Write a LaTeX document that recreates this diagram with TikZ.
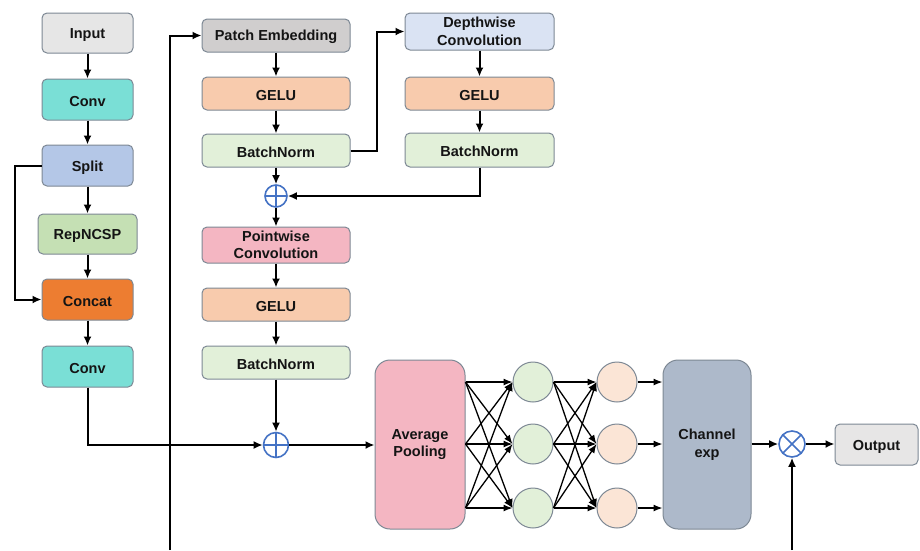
\documentclass[tikz,border=0pt]{standalone}
\usepackage{fontspec}
\setmainfont{Liberation Sans}
\usetikzlibrary{arrows.meta,calc}
\definecolor{edgegray}{HTML}{7D8894}
\definecolor{cInput}{HTML}{E6E6E6}
\definecolor{cConv}{HTML}{7ADFD6}
\definecolor{cSplit}{HTML}{B4C7E7}
\definecolor{cRep}{HTML}{C5E0B4}
\definecolor{cConcat}{HTML}{ED7D31}
\definecolor{cPatch}{HTML}{D0CECE}
\definecolor{cGelu}{HTML}{F8CBAD}
\definecolor{cBN}{HTML}{E2F0D9}
\definecolor{cDW}{HTML}{DAE3F3}
\definecolor{cPW}{HTML}{F4B6C2}
\definecolor{cGreen}{HTML}{E2F0D9}
\definecolor{cPeach}{HTML}{FBE5D6}
\definecolor{cChan}{HTML}{ADB9CA}
\definecolor{cOut}{HTML}{E7E6E6}
\definecolor{opblue}{HTML}{4472C4}
\definecolor{txt}{HTML}{141414}
\tikzset{
  box/.style={draw=edgegray, line width=1pt, rounded corners=5pt, align=center,
    text=txt, font=\fontsize{14.5}{17.5}\selectfont\bfseries, inner sep=2pt,
    execute at begin node={\rule{0pt}{14pt}}},
  tall/.style={box, rounded corners=15pt, minimum width=#1, minimum height=169pt},
  neuron/.style={circle, draw=edgegray, line width=1pt, minimum size=40pt, inner sep=0pt},
  plusop/.style={circle, draw=opblue, line width=1.6pt, fill=white, minimum size=#1, inner sep=0pt,
    path picture={\draw[opblue, line width=1.6pt]
      (path picture bounding box.north) -- (path picture bounding box.south)
      (path picture bounding box.west) -- (path picture bounding box.east);}},
  timesop/.style={circle, draw=opblue, line width=1.6pt, fill=white, minimum size=#1, inner sep=0pt,
    path picture={\draw[opblue, line width=1.6pt]
      (path picture bounding box.north west) -- (path picture bounding box.south east)
      (path picture bounding box.south west) -- (path picture bounding box.north east);}},
  flow/.style={draw=black, line width=2pt, -{Latex[length=9pt,width=8pt]}},
  fan/.style={draw=black, line width=1.3pt, -{Latex[length=9pt,width=7pt]}},
}
\begin{document}
\begin{tikzpicture}[x=1pt,y=-1pt]
\useasboundingbox (0,0) rectangle (920,550);

% left column
\node[box, fill=cInput, minimum width=91pt, minimum height=40pt] (input) at (87.5,33) {Input};
\node[box, fill=cConv, minimum width=91pt, minimum height=41pt] (conv1) at (87.5,99.5) {Conv};
\node[box, fill=cSplit, minimum width=91pt, minimum height=41pt] (split) at (87.5,165.5) {Split};
\node[box, fill=cRep, minimum width=99pt, minimum height=40pt] (rep) at (87.5,234) {RepNCSP};
\node[box, fill=cConcat, minimum width=91pt, minimum height=41pt] (concat) at (87.5,299.5) {Concat};
\node[box, fill=cConv, minimum width=91pt, minimum height=41pt] (conv2) at (87.5,366.5) {Conv};

% middle column
\node[box, fill=cPatch, minimum width=148pt, minimum height=33pt] (patch) at (276,35.5) {Patch Embedding};
\node[box, fill=cGelu, minimum width=148pt, minimum height=33pt] (gelu1) at (276,93.5) {GELU};
\node[box, fill=cBN, minimum width=148pt, minimum height=33pt] (bn1) at (276,150.5) {BatchNorm};
\node[plusop=22pt] (add1) at (276,196) {};
\node[box, fill=cPW, minimum width=148pt, minimum height=36pt] (pw) at (276,245) {Pointwise\\Convolution};
\node[box, fill=cGelu, minimum width=148pt, minimum height=33pt] (gelu2) at (276,304.5) {GELU};
\node[box, fill=cBN, minimum width=148pt, minimum height=33pt] (bn2) at (276,362.5) {BatchNorm};
\node[plusop=25pt] (add2) at (276,445) {};

% depthwise branch
\node[box, fill=cDW, minimum width=149pt, minimum height=37pt] (dw) at (479.5,31.5) {Depthwise\\Convolution};
\node[box, fill=cGelu, minimum width=149pt, minimum height=33pt] (gelu3) at (479.5,93.5) {GELU};
\node[box, fill=cBN, minimum width=149pt, minimum height=34pt] (bn3) at (479.5,150) {BatchNorm};

% channel attention
\node[tall=90pt, fill=cPW] (avg) at (420,444.5) {Average\\Pooling};
\node[neuron, fill=cGreen] (g1) at (533,382) {};
\node[neuron, fill=cGreen] (g2) at (533,444) {};
\node[neuron, fill=cGreen] (g3) at (533,508) {};
\node[neuron, fill=cPeach] (o1) at (617,382) {};
\node[neuron, fill=cPeach] (o2) at (617,444) {};
\node[neuron, fill=cPeach] (o3) at (617,508) {};
\node[tall=88pt, fill=cChan] (chan) at (707,444.5) {Channel\\exp};
\node[timesop=26pt] (mul) at (792,444) {};
\node[box, fill=cOut, minimum width=83pt, minimum height=41pt] (output) at (876.5,444.5) {Output};

\coordinate (bottomA) at (170,550);
\coordinate (bottomB) at (792,550);

% left column flow
\draw[flow] (input) -- (conv1);
\draw[flow] (conv1) -- (split);
\draw[flow] (split) -- (rep);
\draw[flow] (rep) -- (concat);
\draw[flow] (concat) -- (conv2);
\draw[flow] (split.west) -- (15,165.5) -- (15,299.5) -- (concat.west);
\draw[flow] (conv2.south) -- (87.5,445) -- (add2.west);

% middle column flow
\draw[flow] (bottomA) -- (170,35.5) -- (patch.west);
\draw[flow] (patch) -- (gelu1);
\draw[flow] (gelu1) -- (bn1);
\draw[flow] (bn1) -- (add1);
\draw[flow] (add1) -- (pw);
\draw[flow] (pw) -- (gelu2);
\draw[flow] (gelu2) -- (bn2);
\draw[flow] (bn2) -- (add2);

% depthwise branch flow
\draw[flow] (bn1.east) -- (377,150.5) -- (377,31.5) -- (dw.west);
\draw[flow] (dw) -- (gelu3);
\draw[flow] (gelu3) -- (bn3);
\draw[flow] (bn3.south) -- (479.5,196) -- (add1.east);

% channel attention flow
\draw[flow] (add2.east) -- (avg.west |- add2);
\foreach \i in {1,2,3}{
  \foreach \j in {1,2,3}{
    \draw[fan] (avg.east |- g\i) -- (g\j.west);
    \draw[fan] (g\i.east) -- (o\j.west);
  }
  \draw[fan] (o\i.east) -- (chan.west |- o\i);
}
\draw[flow] (chan.east |- mul) -- (mul.west);
\draw[flow] (mul.east) -- (output.west |- mul);
\draw[flow] (bottomB) -- (mul.south);
\end{tikzpicture}
\end{document}
